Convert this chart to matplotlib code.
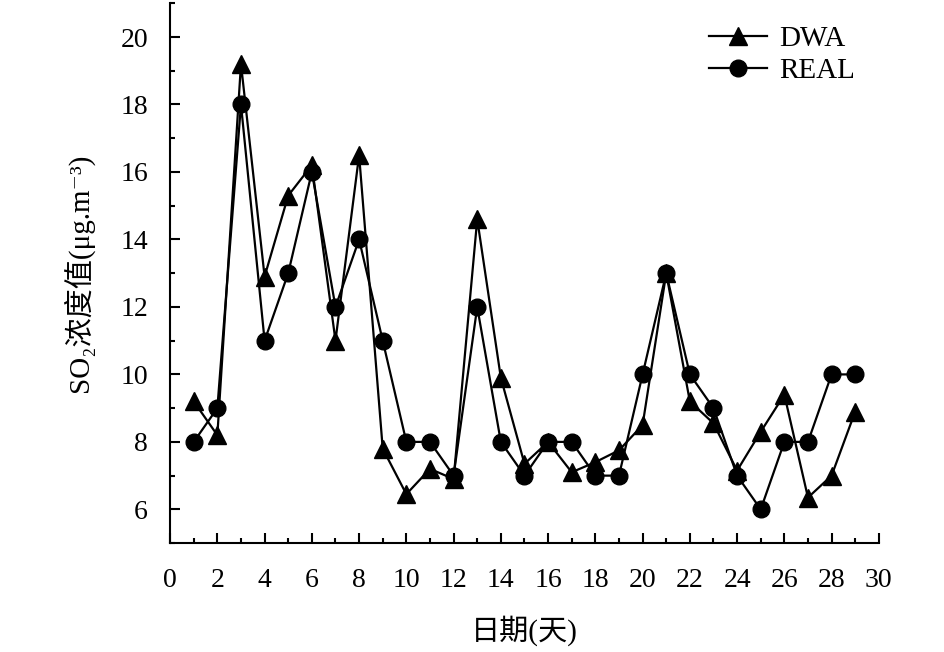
import numpy as np
import matplotlib
matplotlib.use('Agg')
import matplotlib.pyplot as plt
from matplotlib.ticker import MultipleLocator

plt.rcParams['font.family'] = ['Liberation Serif', 'Noto Sans CJK SC', 'DejaVu Serif']

days = list(range(1, 30))
dwa = [9.2, 8.2, 19.2, 12.9, 15.3, 16.2, 11.0, 16.5, 7.8, 6.45,
       7.2, 6.9, 14.6, 9.9, 7.35, 8.0, 7.1, 7.4, 7.75, 8.5,
       13.0, 9.2, 8.55, 7.15, 8.3, 9.4, 6.35, 7.0, 8.9]
real = [8, 9, 18, 11, 13, 16, 12, 14, 11, 8,
        8, 7, 12, 8, 7, 8, 8, 7, 7, 10,
        13, 10, 9, 7, 6, 8, 8, 10, 10]

fig = plt.figure(figsize=(9.45, 6.52), dpi=100)
ax = fig.add_axes([0.18, 0.167, 0.75, 0.828])

ax.plot(days, dwa, color='black', lw=1.6, marker='^', markersize=13,
        label='DWA', zorder=3)
ax.plot(days, real, color='black', lw=1.6, marker='o', markersize=12,
        label='REAL', zorder=3)

ax.set_xlim(0, 30)
ax.set_ylim(5, 21)
ax.xaxis.set_major_locator(MultipleLocator(2))
ax.xaxis.set_minor_locator(MultipleLocator(1))
ax.yaxis.set_major_locator(MultipleLocator(2))
ax.yaxis.set_minor_locator(MultipleLocator(1))
ax.set_yticks(range(6, 21, 2))

for s in ['top', 'right']:
    ax.spines[s].set_visible(False)
for s in ['left', 'bottom']:
    ax.spines[s].set_linewidth(1.5)

ax.tick_params(which='major', direction='in', length=7, width=1.5,
               labelsize=20)
ax.tick_params(which='minor', direction='in', length=3.5, width=1.5)
ax.tick_params(axis='x', which='major', pad=18)
ax.tick_params(axis='y', which='major', pad=16)

ax.set_xlabel('日期(天)', fontsize=21, labelpad=16)
ax.set_ylabel('SO₂浓度值(μg.m⁻³)', fontsize=21, labelpad=19)

ax.legend(loc='upper left', bbox_to_anchor=(0.76, 0.958), frameon=False,
          fontsize=21, handlelength=2.0, handletextpad=0.4,
          borderpad=0, borderaxespad=0, labelspacing=0.18, markerscale=1.0)

fig.savefig('out.png', dpi=100)
